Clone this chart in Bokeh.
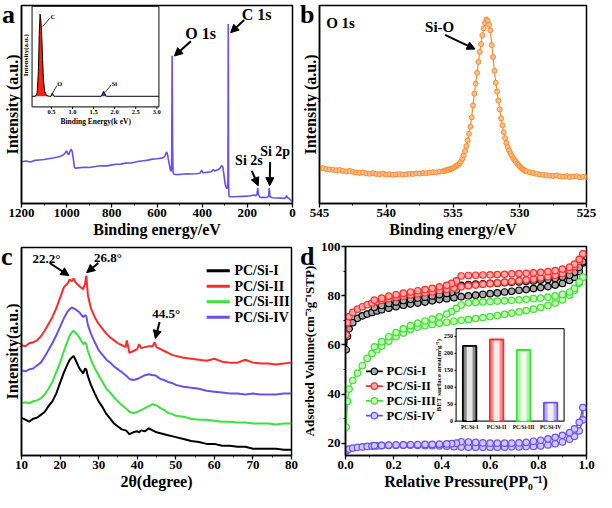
import numpy as np
from bokeh.plotting import figure
from bokeh.models import (Range1d, SingleIntervalTicker, FixedTicker, Arrow, NormalHead,
                          NumeralTickFormatter, GridBox, Div)
from bokeh.embed import file_html
from bokeh.resources import INLINE
from bokeh.core.properties import value

FONT = "Liberation Serif"
BLUE = "#6a50f0"
RED = "#ff2a2a"
GREEN = "#3be23b"
BLACK = "#000000"
ORANGE = "#ff8a2a"

# ---------------- data (a) XPS survey ----------------
xps_energy = [1200, 1180, 1160, 1140, 1120, 1100, 1080, 1060, 1040, 1029, 1015, 1005, 1000, 995,
              990, 985, 980, 975, 970, 966, 962, 950, 920, 900, 880, 857, 840, 820, 800, 780,
              760, 740, 714, 700, 680, 660, 640, 620, 600, 580, 571, 565, 560, 557, 553, 550,
              545, 541, 537, 535, 533, 531, 529, 525, 510, 490, 470, 450, 429, 410, 402, 398,
              380, 360, 350, 345, 330, 320, 314, 308, 303, 298, 293, 289, 286, 284.5, 283, 281,
              277, 260, 240, 220, 200, 186, 171, 162, 157, 154, 151, 143, 130, 115, 106, 103,
              100, 90, 70, 50, 35, 29, 26, 23, 15, 8, 3, 0]
xps_counts = [21.1, 21.5, 21.0, 21.8, 22.0, 22.2, 22.6, 23.0, 23.5, 23.8, 24.5, 25.8, 26.7, 25.0,
              24.8, 26.5, 27.5, 26.0, 22.0, 18.5, 17.8, 18.0, 18.3, 18.2, 18.6, 18.9, 19.1, 19.0, 19.5, 19.8,
              19.9, 20.4, 20.5, 20.8, 21.3, 21.6, 21.9, 22.4, 22.6, 22.9, 23.2, 24.0, 25.5, 26.0, 24.5, 22.5,
              19.5, 17.0, 16.2, 20.0, 74.6, 30.0, 15.8, 14.8, 14.6, 14.8, 15.0, 14.9, 15.0, 15.3, 16.8, 15.5,
              15.7, 16.0, 17.2, 16.4, 17.0, 18.0, 19.2, 18.3, 14.0, 9.5, 8.0, 7.5, 12.0, 90.7, 10.0, 3.6,
              3.4, 3.4, 3.5, 3.6, 3.7, 3.9, 4.3, 3.9, 5.0, 7.8, 4.5, 3.0, 3.1, 3.0, 3.6, 7.8,
              3.5, 2.9, 2.8, 2.7, 2.6, 3.0, 4.0, 3.0, 2.5, 1.8, 0.8, 0.0]

# inset EDS spectrum
eds_energy = [0.04, 0.12, 0.16, 0.19, 0.21, 0.23, 0.25, 0.27, 0.29, 0.31, 0.34, 0.38, 0.45,
              0.49, 0.52, 0.56, 0.60, 1.68, 1.71, 1.74, 1.77, 1.80, 3.05]
eds_counts = [0, 0, 0.04, 0.30, 0.75, 1.0, 0.92, 0.72, 0.45, 0.20, 0.06, 0.01, 0,
              0, 0.04, 0, 0, 0, 0.03, 0.06, 0.03, 0, 0]
eds_ticks = [0.5, 1.0, 1.5, 2.0, 2.5, 3.0]
eds_tick_labels = ["0.5", "1.0", "1.5", "2.0", "2.5", "3.0"]

# ---------------- data (b) O 1s ----------------
o1s_energy = np.concatenate([np.arange(545, 535.7, -0.25),
                             np.arange(535.6, 529.55, -0.1),
                             np.arange(529.5, 524.9, -0.25)])
o1s_base = [17.6, 17.9, 17.4, 17.2, 17.0, 16.8, 16.9, 16.4, 16.2, 16.5, 16.0, 15.6, 15.4, 15.7,
            15.2, 15.0, 15.3, 14.9, 14.8, 15.1, 14.6, 14.8, 14.5, 14.7, 14.9, 14.6, 14.8, 15.0,
            14.9, 15.2, 15.1, 15.4, 15.3, 15.6, 15.8, 15.7, 16.1, 16.3]
o1s_peak = [16.6, 16.8, 17.0, 17.1, 17.4, 17.6, 17.9, 18.3, 18.8, 19.2, 19.7, 20.2, 21.2, 22.6,
            24.3, 26.5, 29.0, 31.8, 35.2, 38.8, 43.5, 49.5, 55.5, 60.5, 66.0, 71.5, 76.5, 80.5,
            85.0, 88.5, 91.2, 92.9, 92.2, 90.3, 87.5, 80.0, 74.0, 67.0, 61.0, 56.5, 52.0, 47.5,
            43.0, 39.5, 36.0, 33.0, 30.5, 28.5, 26.8, 25.4, 24.2, 23.0, 22.0, 21.1, 20.2, 19.4,
            18.7, 18.0, 17.4, 17.0, 16.5]
o1s_tail = [16.2, 15.8, 15.4, 15.0, 14.7, 14.5, 14.3, 14.0, 13.9, 14.2, 13.7, 13.6, 13.9, 13.4,
            13.6, 13.8, 13.2, 13.5, 13.3]
o1s_counts = o1s_base + o1s_peak + o1s_tail

# ---------------- data (c) XRD ----------------
xrd_2theta = [10, 11, 12, 13, 14, 15, 16, 17, 18, 19, 20, 21, 22, 22.5, 23, 23.5, 24, 25, 26, 26.5,
              26.8, 27.2, 28, 29, 30, 31, 32, 33, 34, 35, 36, 37, 37.3, 38, 39, 40, 40.5, 41, 42,
              43, 44, 44.5, 45, 46, 47, 48, 49, 50, 52, 54, 56, 58, 60, 62, 64, 66, 68, 70, 72,
              74, 76, 78, 80]
xrd_I = [39, 37, 35, 38, 39, 42, 45, 51, 56, 64, 75, 86, 95, 99, 101, 103, 99, 90, 85, 90,
         89, 82, 73, 64, 56, 50, 43, 38, 33, 30, 27, 26, 25, 22, 24, 25, 24, 26, 25,
         28, 26, 25, 24, 23, 22, 21, 20, 19, 17, 15, 14, 12, 12, 10, 10, 9, 9, 7, 7,
         7, 7, 6, 6]
xrd_II = [114, 113, 116, 117, 119, 123, 129, 136, 143, 152, 163, 174, 178, 182, 180, 183, 179, 175, 172, 178,
          186, 166, 152, 143, 136, 131, 126, 122, 119, 116, 114, 112, 119, 106, 108, 110, 115, 111, 112,
          113, 113, 117, 112, 110, 108, 106, 104, 103, 101, 100, 99, 98, 100, 97, 96, 96, 99, 96, 95,
          95, 94, 95, 96]
xrd_III = [54, 55, 54, 56, 57, 59, 63, 69, 76, 86, 96, 108, 119, 124, 127, 129, 127, 122, 115, 117,
           115, 108, 99, 90, 83, 76, 69, 65, 60, 56, 52, 49, 48, 45, 44, 45, 46, 47, 49,
           51, 53, 52, 52, 49, 47, 44, 43, 41, 40, 38, 37, 37, 36, 35, 35, 34, 34, 33, 33,
           33, 32, 33, 33]
xrd_IV = [88, 87, 89, 90, 93, 96, 102, 109, 116, 124, 133, 142, 149, 151, 153, 152, 151, 148, 143, 145,
          144, 135, 126, 117, 109, 104, 99, 96, 92, 89, 86, 83, 82, 79, 78, 79, 80, 81, 83,
          84, 83, 83, 82, 79, 78, 76, 75, 73, 71, 70, 69, 67, 66, 65, 64, 64, 63, 64, 63,
          63, 63, 64, 64]

# ---------------- data (d) N2 isotherms ----------------
ads_p = [0.003, 0.008, 0.015, 0.03, 0.05, 0.07, 0.09, 0.11, 0.13, 0.15, 0.18, 0.21, 0.24, 0.27,
         0.30, 0.33, 0.36, 0.39, 0.42, 0.45, 0.48, 0.51, 0.54, 0.57, 0.60, 0.63, 0.66, 0.69,
         0.72, 0.75, 0.78, 0.81, 0.84, 0.87, 0.90, 0.93, 0.95, 0.97, 0.985]
des_p = [0.985, 0.97, 0.95, 0.93, 0.90, 0.87, 0.84, 0.81, 0.78, 0.75, 0.72, 0.69, 0.66, 0.63,
         0.60, 0.57, 0.54, 0.51, 0.48, 0.46, 0.44, 0.42, 0.39, 0.36, 0.33, 0.30, 0.27, 0.24,
         0.21, 0.18, 0.15, 0.12]
ads_I = [58, 63.5, 66.5, 69, 70.8, 71.8, 72.5, 73.2, 73.8, 74.3, 74.9, 75.5, 76.1, 76.6,
         77.0, 77.4, 77.9, 78.4, 78.8, 79.2, 79.6, 79.9, 80.2, 80.5, 80.8, 81.1, 81.5, 81.8,
         82.2, 82.5, 82.9, 83.3, 83.7, 84.3, 85.0, 86.2, 87.5, 89.8, 93.3]
des_I = [93.8, 91.5, 89.5, 88.3, 87.6, 87.0, 86.6, 86.3, 86.0, 85.8, 85.6, 85.4, 85.3, 85.1,
         85.0, 84.8, 84.7, 84.5, 84.2, 82.3, 81.4, 80.9, 80.4, 79.9, 79.4, 79.0, 78.5, 78.0,
         77.4, 76.8, 76.0, 75.2]
ads_II = [64, 69, 71.5, 73.2, 74.5, 75.5, 76.3, 77.0, 77.6, 78.1, 78.7, 79.3, 79.8, 80.3,
          80.7, 81.2, 81.6, 82.1, 82.6, 83.1, 83.6, 84.0, 84.3, 84.6, 84.9, 85.2, 85.5, 85.8,
          86.1, 86.4, 86.8, 87.2, 87.7, 88.3, 89.0, 90.3, 91.8, 94.0, 96.8]
des_II = [97.0, 94.8, 92.8, 91.6, 90.8, 90.2, 89.8, 89.5, 89.3, 89.1, 89.0, 88.9, 88.7, 88.6,
          88.5, 88.4, 88.3, 88.2, 88.0, 86.0, 85.0, 84.2, 83.6, 83.0, 82.5, 82.0, 81.5, 81.0,
          80.4, 79.8, 79.0, 78.2]
ads_III = [26.5, 37, 42, 45.5, 48.5, 51.5, 54.5, 56.5, 58, 59.5, 61.5, 63.3, 64.8, 66.2,
           67.2, 67.8, 68.3, 68.8, 69.2, 69.6, 70.0, 70.3, 70.7, 71.1, 71.5, 71.9, 72.4, 72.9,
           73.4, 73.9, 74.5, 75.2, 76.0, 77.0, 78.3, 80.2, 82.2, 85.0, 87.5]
des_III = [87.5, 85.5, 83.0, 81.5, 80.5, 79.9, 79.4, 79.0, 78.8, 78.5, 78.3, 78.1, 77.9, 77.8,
           77.6, 77.5, 77.3, 77.1, 76.2, 74.8, 73.5, 72.5, 71.4, 70.5, 69.7, 68.8, 67.8, 66.5,
           65.0, 63.3, 61.3, 59.2]
ads_IV = [16.8, 17.2, 17.6, 18.0, 18.3, 18.5, 18.7, 18.8, 18.9, 19.0, 19.1, 19.1, 19.2, 19.2,
          19.1, 19.0, 19.0, 18.9, 18.8, 18.6, 18.5, 18.4, 18.4, 18.4, 18.4, 18.4, 18.4, 18.5,
          18.5, 18.6, 18.7, 18.9, 19.3, 19.8, 20.5, 21.6, 22.8, 25.0, 29.5]
des_IV = [34.5, 28.5, 25.8, 24.3, 23.2, 22.4, 21.8, 21.2, 20.8, 20.3, 20.1, 20.0, 20.0, 20.0,
          20.0, 20.1, 20.3, 20.5, 20.6, 20.0, 19.8, 19.7, 19.6, 19.5, 19.5, 19.4, 19.4, 19.3,
          19.3, 19.2, 19.1, 19.0]

samples = ["PC/Si-I", "PC/Si-II", "PC/Si-III", "PC/Si-IV"]
bet_area = [222, 241, 210, 55]
bet_ticks = [0, 50, 100, 150, 200, 250]
bet_tick_labels = ["0", "50", "100", "150", "200", "250"]
panel_letters = ["a", "b", "c", "d"]

COLORS = [BLACK, RED, GREEN, BLUE]

# ---------------- helpers ----------------
def new_fig(w, h, xr, yr, bl, br, bt, bb):
    p = figure(width=w, height=h, x_range=xr, y_range=yr, output_backend="svg",
               toolbar_location=None, min_border_left=bl, min_border_right=br,
               min_border_top=bt, min_border_bottom=bb,
               width_policy="fixed", height_policy="fixed", min_width=w, min_height=h)
    try:
        p.frame_align = False
    except AttributeError:
        pass
    p.xgrid.visible = False
    p.ygrid.visible = False
    p.outline_line_color = "black"
    p.outline_line_width = 1.5
    p.outline_line_alpha = 1
    p.background_fill_color = "white"
    p.border_fill_color = "white"
    for ax in p.axis:
        ax.axis_line_width = 1.5
        ax.major_tick_out = 4
        ax.major_tick_in = 0
        ax.minor_tick_out = 2
        ax.minor_tick_in = 0
        ax.major_tick_line_width = 1.3
        ax.major_label_text_font = FONT
        ax.major_label_text_font_style = "bold"
        ax.major_label_text_font_size = "13px"
        ax.major_label_text_color = "black"
        ax.axis_label_text_font = FONT
        ax.axis_label_text_font_style = "bold"
        ax.axis_label_text_font_size = "16px"
        ax.axis_label_text_color = "black"
        ax.major_label_standoff = 1
        ax.axis_label_standoff = 1
    return p


def no_yticks(p):
    p.yaxis.ticker = FixedTicker(ticks=[])
    p.yaxis.major_tick_line_color = None
    p.yaxis.minor_tick_line_color = None


def inset_range(d0, d1, f0, f1):
    span = (d1 - d0) / (f1 - f0)
    start = d0 - f0 * span
    return Range1d(start, start + span)


def txt(p, x, y, s, size, **kw):
    p.text(x=[x], y=[y], text=[s], text_font=value(FONT), text_font_style="bold",
           text_font_size=size, text_color="black", **kw)


def arrow(p, x0, y0, x1, y1):
    p.add_layout(Arrow(end=NormalHead(size=8, fill_color="black", line_color="black", line_width=1),
                       x_start=x0, y_start=y0, x_end=x1, y_end=y1, line_width=2, line_color="black"))


def letter_div(s, left, top):
    return Div(text=s, width=24, height=30, margin=(top, 0, 0, left),
               styles={"font-family": FONT, "font-weight": "bold", "font-size": "26px",
                       "line-height": "1.1", "color": "black", "pointer-events": "none",
                       "z-index": "10"})

# ---------------- panel a ----------------
pa = new_fig(298, 240, Range1d(1200, 0), Range1d(0, 100), 20, 6, 5, 30)
pa.line(xps_energy, xps_counts, line_color=BLUE, line_width=1.6)
pa.xaxis.ticker = SingleIntervalTicker(interval=200, num_minor_ticks=2)
no_yticks(pa)
pa.xaxis.axis_label = "Binding energy/eV"
pa.yaxis.axis_label = "Intensity (a.u.)"
arrow(pa, 450, 82, 523, 74.5)
txt(pa, 407, 86, "O 1s", "16px", text_align="center", text_baseline="middle")
arrow(pa, 214, 92.7, 274, 86.3)
txt(pa, 159, 95.3, "C 1s", "16px", text_align="center", text_baseline="middle")
arrow(pa, 180, 16.5, 152, 9)
txt(pa, 193, 21.5, "Si 2s", "14px", text_align="center", text_baseline="middle")
arrow(pa, 99, 21, 101, 9)
txt(pa, 77, 26.5, "Si 2p", "14px", text_align="center", text_baseline="middle")

# inset EDS
pa.extra_x_ranges = {"ix": inset_range(0.04, 3.05, 0.039, 0.507)}
pa.extra_y_ranges = {"iy": inset_range(-0.129, 1.094, 0.488, 0.995)}
ik = dict(x_range_name="ix", y_range_name="iy")
pa.quad(left=[0.04], right=[3.05], bottom=[-0.129], top=[1.094], fill_color="white",
        line_color="#333333", line_width=1.2, **ik)
pa.varea(x=eds_energy[1:13], y1=0, y2=eds_counts[1:13], fill_color="#ff2010", **ik)
pa.varea(x=eds_energy[12:17], y1=0, y2=eds_counts[12:17], fill_color="#30d030", **ik)
pa.varea(x=eds_energy[16:22], y1=0, y2=eds_counts[16:22], fill_color="#3040e0", **ik)
pa.line(eds_energy, eds_counts, line_color="black", line_width=1, **ik)
pa.segment(x0=eds_ticks, x1=eds_ticks, y0=-0.129, y1=-0.155, line_color="black", line_width=1, **ik)
pa.text(x=eds_ticks, y=-0.129, text=eds_tick_labels, text_font=value(FONT), text_font_style="bold",
        text_font_size="6.5px", text_align="center", text_baseline="top", y_offset=3, **ik)
pa.text(x=[1.55], y=[-0.129], text=["Binding Energy(k eV)"], text_font=value(FONT),
        text_font_style="bold", text_font_size="7.5px", text_align="center", text_baseline="top",
        y_offset=10, **ik)
pa.text(x=[0.04], y=[0.50], text=["Intensity(a.u.)"], text_font=value(FONT), text_font_style="bold",
        text_font_size="7px", text_align="center", text_baseline="bottom", angle=np.pi / 2,
        x_offset=-2, **ik)
pa.segment(x0=[0.29, 0.52, 1.78], y0=[0.85, 0.035, 0.05], x1=[0.46, 0.63, 1.92], y1=[0.95, 0.13, 0.14],
           line_color="black", line_width=0.8, **ik)
pa.text(x=[0.48, 0.64, 1.93], y=[0.97, 0.15, 0.16], text=["C", "O", "Si"], text_font=value(FONT),
        text_font_style="bold", text_font_size="6.5px", text_align="left", text_baseline="middle", **ik)

# ---------------- panel b ----------------
pb = new_fig(298, 240, Range1d(545, 525), Range1d(0, 100), 20, 10, 5, 30)
pb.line(o1s_energy, o1s_counts, line_color=ORANGE, line_width=1.2)
pb.scatter(o1s_energy, o1s_counts, size=5, marker="circle", line_color=ORANGE,
           fill_color="#ffc090", line_width=1.0)
pb.xaxis.ticker = SingleIntervalTicker(interval=5, num_minor_ticks=2)
no_yticks(pb)
pb.xaxis.axis_label = "Binding energy/eV"
pb.yaxis.axis_label = "Intensity (a.u.)"
txt(pb, 544.5, 91.2, "O 1s", "15px", text_align="left", text_baseline="middle")
txt(pb, 536, 89, "Si-O", "15px", text_align="center", text_baseline="middle")
arrow(pb, 535.6, 85.2, 533.35, 78)

# ---------------- panel c ----------------
pc = new_fig(298, 252, Range1d(10, 80), Range1d(0, 215), 21, 7, 7, 30)
for vals, col in zip([xrd_I, xrd_II, xrd_III, xrd_IV], COLORS):
    pc.line(xrd_2theta, vals, line_color=col, line_width=2)
pc.xaxis.ticker = SingleIntervalTicker(interval=10, num_minor_ticks=2)
no_yticks(pc)
pc.xaxis.axis_label = "2θ(degree)"
pc.yaxis.axis_label = "Intensity(a.u.)"
c_leg_y = [191, 175, 159, 143]
pc.segment(x0=58.0, x1=64.0, y0=c_leg_y, y1=c_leg_y, line_color=COLORS, line_width=3)
pc.text(x=65.2, y=c_leg_y, text=samples, text_font=value(FONT), text_font_style="bold",
        text_font_size="14px", text_align="left", text_baseline="middle", text_color="black")
txt(pc, 16.5, 204, "22.2°", "13px", text_align="center", text_baseline="middle")
arrow(pc, 17.3, 199, 22.3, 186)
txt(pc, 32.4, 205, "26.8°", "13px", text_align="center", text_baseline="middle")
arrow(pc, 29.9, 199, 26.9, 189)
txt(pc, 47.5, 147, "44.5°", "13px", text_align="center", text_baseline="middle")
arrow(pc, 45.8, 138, 44.7, 121)

# ---------------- panel d ----------------
pd_ = new_fig(298, 252, Range1d(0, 1.0), Range1d(15, 100), 34, 10, 6, 30)
d_fill = ["#aaaaaa", "#ffaaaa", "#c8f8b0", "#cfc8ff"]
for a_v, d_v, col, fc in zip([ads_I, ads_II, ads_III, ads_IV],
                             [des_I, des_II, des_III, des_IV], COLORS, d_fill):
    xs = ads_p + des_p
    ys = a_v + d_v
    pd_.line(xs, ys, line_color=col, line_width=1.4)
    pd_.scatter(xs, ys, size=6.5, marker="circle", line_color=col, fill_color=fc, line_width=1.2)
pd_.xaxis.ticker = SingleIntervalTicker(interval=0.2, num_minor_ticks=2)
pd_.xaxis.formatter = NumeralTickFormatter(format="0.0")
pd_.yaxis.ticker = SingleIntervalTicker(interval=20, num_minor_ticks=2)
pd_.xaxis.axis_label = "Relative Pressure(PP₀⁻¹)"
pd_.yaxis.axis_label = "Adsorbed Volume(cm⁻³g⁻¹STP)"
pd_.yaxis.axis_label_text_font_size = "13px"
d_leg_y = [49.2, 43.2, 37.2, 31.2]
pd_.segment(x0=0.085, x1=0.155, y0=d_leg_y, y1=d_leg_y, line_color=COLORS, line_width=1.6)
pd_.scatter(x=[0.12] * 4, y=d_leg_y, size=6.5, marker="circle", line_color=COLORS,
            fill_color=d_fill, line_width=1.2)
pd_.text(x=0.17, y=d_leg_y, text=samples, text_font=value(FONT), text_font_style="bold",
         text_font_size="12.5px", text_align="left", text_baseline="middle", text_color="black")

# inset BET bars
pd_.extra_x_ranges = {"bx": inset_range(0.5, 4.5, 0.459, 0.907)}
pd_.extra_y_ranges = {"by": inset_range(0, 273, 0.164, 0.607)}
bk = dict(x_range_name="bx", y_range_name="by")
pd_.quad(left=[0.5], right=[4.5], bottom=[0], top=[273], fill_color="white", line_color="#222222",
         line_width=1.2, **bk)
bar_x = [1, 2, 3, 4]
pd_.vbar(x=bar_x, top=bet_area, width=0.5, bottom=0, fill_color=["#8a8a8a", "#ff8f8f", "#aef5a0", "#b8b0f2"],
         line_color=COLORS, line_width=1.8, **bk)
pd_.vbar(x=bar_x, top=[v - 3 for v in bet_area], width=0.22, bottom=1, fill_color="white",
         fill_alpha=0.8, line_color=None, **bk)
pd_.segment(x0=0.5, x1=0.44, y0=bet_ticks, y1=bet_ticks, line_color="black", line_width=1, **bk)
pd_.text(x=0.5, y=bet_ticks, text=bet_tick_labels, text_font=value(FONT), text_font_style="bold",
         text_font_size="6px", text_align="right", text_baseline="middle", x_offset=-3, **bk)
pd_.text(x=bar_x, y=0, text=samples, text_font=value(FONT), text_font_style="bold",
         text_font_size="5.5px", text_align="center", text_baseline="top", y_offset=3, **bk)
pd_.text(x=[0.5], y=[136], text=["BET surface area(m²g⁻¹)"], text_font=value(FONT),
         text_font_style="bold", text_font_size="7px", text_align="center", text_baseline="bottom",
         angle=np.pi / 2, x_offset=-13, **bk)

# panel letters as HTML text laid over the top-left corners of the cells
letters = [letter_div(panel_letters[0], 2, 1), letter_div(panel_letters[1], 2, 1),
           letter_div(panel_letters[2], 1, 3), letter_div(panel_letters[3], 2, 3)]

grid = GridBox(children=[(pa, 0, 0), (pb, 0, 1), (pc, 1, 0), (pd_, 1, 1),
                         (letters[0], 0, 0), (letters[1], 0, 1), (letters[2], 1, 0), (letters[3], 1, 1)],
               spacing=0)
open("out.html", "w").write(file_html(grid, INLINE))
